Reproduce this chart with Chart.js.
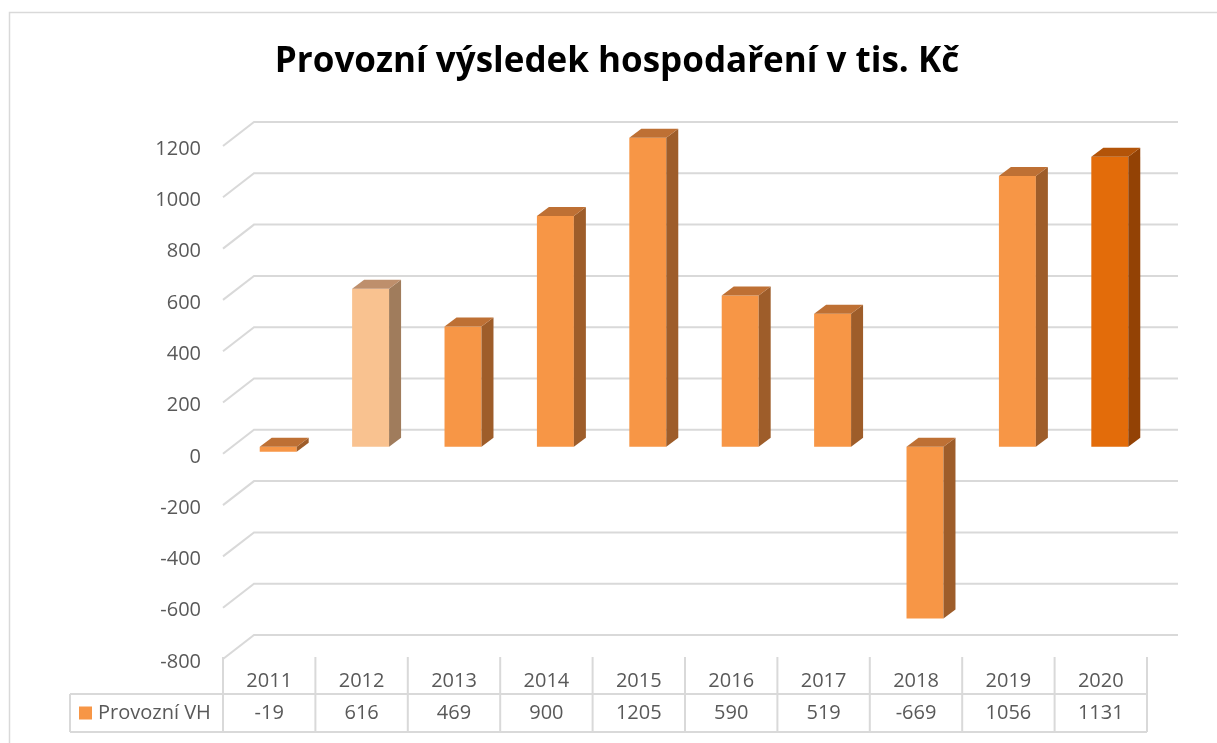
<!DOCTYPE html>
<html>
<head>
<meta charset="utf-8">
<script src="https://cdn.jsdelivr.net/npm/chart.js@4.4.1/dist/chart.umd.min.js"></script>
<style>
  html, body { margin: 0; padding: 0; background: #fff; }
</style>
</head>
<body>
<canvas id="chart" width="1217" height="743"></canvas>
<script>
// data z tabulky pod grafem
const roky = ['2011', '2012', '2013', '2014', '2015', '2016', '2017', '2018', '2019', '2020'];
const provozniVH = [-19, 616, 469, 900, 1205, 590, 519, -669, 1056, 1131];
const osaY = [-800, -600, -400, -200, 0, 200, 400, 600, 800, 1000, 1200];
const nazevRady = 'Provozní VH';
const titulek = 'Provozní výsledek hospodaření v tis. Kč';

// barvy sloupců (2012 světlejší, 2020 tmavší jako v originále)
const barvy = {
  bezna: { celo: '#F79646', bok: '#9E5D2A', vrch: '#BE7034' },
  svetla: { celo: '#F9C290', bok: '#A07C5C', vrch: '#BE8F6C' },
  tmava: { celo: '#E36C0A', bok: '#934205', vrch: '#B35409' }
};
const barvaSloupce = i => (i === 1 ? barvy.svetla : i === 9 ? barvy.tmava : barvy.bezna);

// 3D posuny
const hloubka = { dx: 12, dy: -9 };
const stena = { dx: 31, dy: -24, predX: -9, predY: 7 };
const seda = '#595959';
const cara = '#d9d9d9';

const efekt3D = {
  id: 'efekt3D',
  beforeDraw(chart) {
    const ctx = chart.ctx;
    ctx.save();
    ctx.fillStyle = '#fff';
    ctx.fillRect(0, 0, chart.width, chart.height);
    ctx.strokeStyle = cara;
    ctx.lineWidth = 1.5;
    ctx.strokeRect(9.5, 12.5, chart.width + 20, chart.height + 20);
    ctx.restore();
  },
  beforeDatasetsDraw(chart) {
    const { ctx, chartArea, scales: { y } } = chart;
    ctx.save();
    ctx.strokeStyle = cara;
    ctx.lineWidth = 2;
    y.ticks.forEach(t => {
      const py = y.getPixelForValue(t.value);
      const x0 = chartArea.left + stena.predX, y0 = py + stena.predY;
      const x1 = x0 + stena.dx, y1 = y0 + stena.dy;
      const x2 = chartArea.right + stena.predX + stena.dx;
      ctx.beginPath();
      ctx.moveTo(x0, y0);
      ctx.lineTo(x1, y1);
      ctx.lineTo(x2, y1);
      ctx.stroke();
    });
    ctx.restore();
  },
  afterDatasetsDraw(chart) {
    const ctx = chart.ctx;
    const meta = chart.getDatasetMeta(0);
    ctx.save();
    meta.data.forEach((bar, i) => {
      const b = barvaSloupce(i);
      const l = bar.x - bar.width / 2, r = bar.x + bar.width / 2;
      const t = Math.min(bar.y, bar.base), d = Math.max(bar.y, bar.base);
      // bok
      ctx.fillStyle = b.bok;
      ctx.beginPath();
      ctx.moveTo(r, t);
      ctx.lineTo(r + hloubka.dx, t + hloubka.dy);
      ctx.lineTo(r + hloubka.dx, d + hloubka.dy);
      ctx.lineTo(r, d);
      ctx.closePath();
      ctx.fill();
      // vrch
      ctx.fillStyle = b.vrch;
      ctx.beginPath();
      ctx.moveTo(l, t);
      ctx.lineTo(l + hloubka.dx, t + hloubka.dy);
      ctx.lineTo(r + hloubka.dx, t + hloubka.dy);
      ctx.lineTo(r, t);
      ctx.closePath();
      ctx.fill();
    });
    ctx.restore();
  },
  afterDraw(chart) {
    // tabulka dat pod grafem
    const { ctx, chartArea, scales: { x } } = chart;
    const sirka = (x.right - x.left) / roky.length;
    const levy = x.left + stena.predX;
    const pravy = x.right + stena.predX;
    const horni = chartArea.bottom + stena.predY - 2;
    const stred = 694, dolni = 732, legendaX = 70;
    ctx.save();
    ctx.strokeStyle = cara;
    ctx.lineWidth = 2;
    ctx.beginPath();
    for (let i = 0; i <= roky.length; i++) {
      const cx = levy + i * sirka;
      ctx.moveTo(cx, horni);
      ctx.lineTo(cx, dolni);
    }
    ctx.moveTo(legendaX, stred);
    ctx.lineTo(pravy, stred);
    ctx.moveTo(legendaX, dolni);
    ctx.lineTo(pravy, dolni);
    ctx.moveTo(legendaX, stred);
    ctx.lineTo(legendaX, dolni);
    ctx.stroke();

    ctx.fillStyle = seda;
    ctx.font = '20px "Open Sans"';
    ctx.textAlign = 'center';
    ctx.textBaseline = 'middle';
    const radekY = (stred + dolni) / 2;
    provozniVH.forEach((v, i) => {
      ctx.fillText(String(v), x.getPixelForValue(i) + stena.predX, radekY);
    });
    ctx.fillStyle = barvy.bezna.celo;
    ctx.fillRect(79, radekY - 6.5, 13, 13);
    ctx.fillStyle = seda;
    ctx.textAlign = 'left';
    ctx.fillText(nazevRady, 98, radekY);
    ctx.restore();
  }
};

const ctx = document.getElementById('chart').getContext('2d');
const myChart = new Chart(ctx, {
  type: 'bar',
  data: {
    labels: roky,
    datasets: [{
      label: nazevRady,
      data: provozniVH,
      backgroundColor: provozniVH.map((v, i) => barvaSloupce(i).celo),
      borderWidth: 0,
      categoryPercentage: 1,
      barPercentage: 0.4,
      clip: false
    }]
  },
  options: {
    responsive: false,
    animation: false,
    layout: { padding: { left: 78, right: 61, top: 0, bottom: 0 } },
    plugins: {
      legend: { display: false },
      tooltip: { enabled: false },
      title: {
        display: true,
        text: titulek,
        color: '#000',
        font: { family: '"Open Sans"', size: 35, weight: 'bold', lineHeight: 1.2 },
        padding: { top: 41, bottom: 56 }
      }
    },
    scales: {
      x: {
        grid: { display: false, drawTicks: false, tickLength: 0 },
        border: { display: false },
        ticks: {
          color: seda,
          font: { family: '"Open Sans"', size: 20 },
          padding: 17,
          labelOffset: stena.predX,
          maxRotation: 0
        },
        afterFit(scale) { scale.height = 91; }
      },
      y: {
        min: osaY[0],
        max: osaY[osaY.length - 1],
        grid: { display: false, drawTicks: false, tickLength: 0 },
        border: { display: false },
        ticks: {
          stepSize: osaY[1] - osaY[0],
          color: seda,
          font: { family: '"Open Sans"', size: 20 },
          padding: 31,
          labelOffset: 10,
          callback: v => String(v)
        },
        afterFit(scale) { scale.width = 154; }
      }
    }
  },
  plugins: [efekt3D]
});
</script>
</body>
</html>
